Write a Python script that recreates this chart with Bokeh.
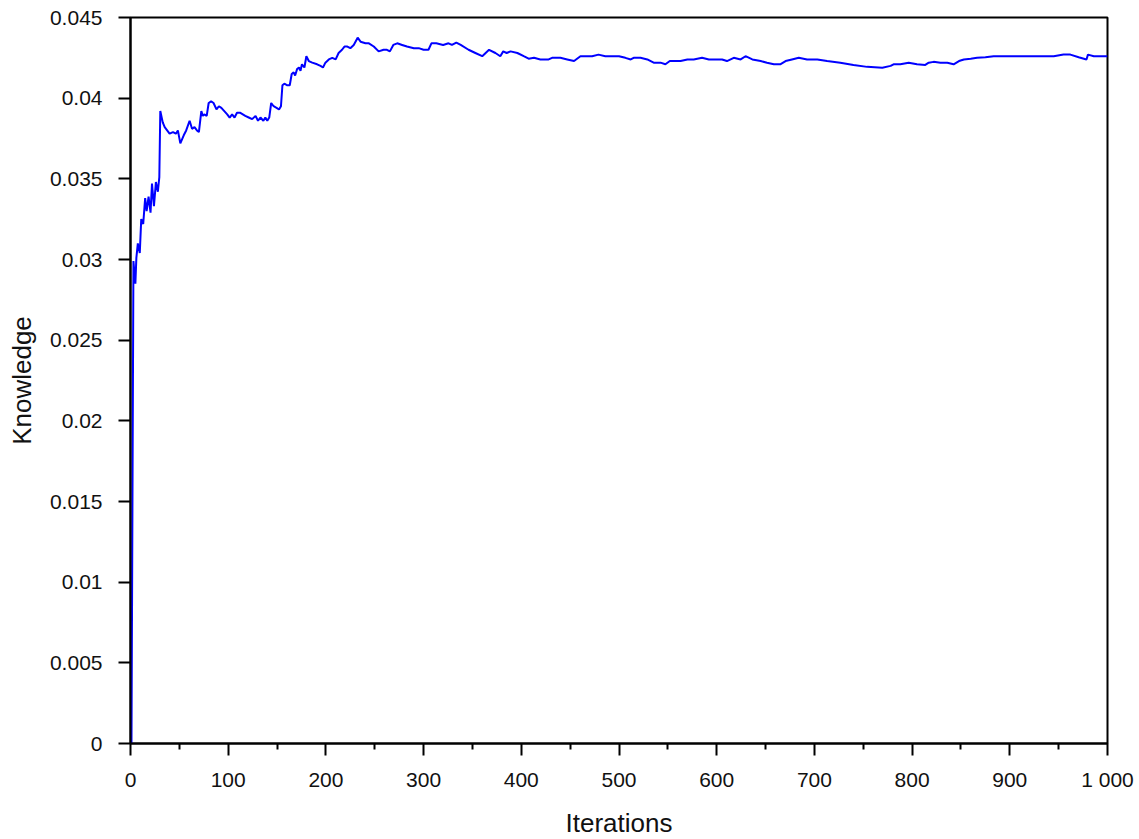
from bokeh.plotting import figure
from bokeh.models import Range1d, FixedTicker
from bokeh.embed import file_html
from bokeh.resources import INLINE

iterations = [1, 3, 5, 6, 7.5, 9.5, 11, 13, 15, 16.5, 18.5, 20.5, 22, 24, 26, 28, 29.5, 30.5,
              33, 35, 37.5, 40, 43.5, 46.5, 48.5, 51, 54.5, 57, 60.5, 63, 65.5, 68, 70, 72.5,
              74, 75.5, 78, 80, 82.5, 85, 88, 90.5, 93, 96, 99, 101.5, 104, 106.5, 109, 112,
              117.5, 121, 124.5, 128, 130.5, 133, 136, 138, 140, 142, 144, 146.5, 149.5, 152,
              154, 155.5, 157.5, 160.5, 163, 165, 167, 168.5, 170.5, 172.5, 174, 175.5, 178,
              180, 182.5, 186, 191, 194.5, 197, 199.5, 203, 206.5, 210, 213, 216.5, 219, 222,
              225, 228.5, 232.5, 235.5, 240.5, 244, 249, 254, 259, 262.5, 265.5, 269, 273, 278,
              283, 290, 295, 300, 305, 308, 313, 320, 325.5, 329, 333.5, 338, 346, 353, 360,
              367, 373.5, 378.5, 381.5, 385, 389, 396, 402.5, 407.5, 413, 419.5, 428, 431.5,
              440, 447, 454, 460.5, 467.5, 472.5, 479, 486, 493, 500, 506.5, 512, 515, 522,
              529, 535.5, 542.5, 547.5, 552, 558, 563, 570, 576.5, 585, 592, 599, 605.5, 610.5,
              617.5, 624.5, 629.5, 636.5, 645, 651.5, 658.5, 665, 670.5, 677, 684, 692.5, 703,
              713, 726.5, 740, 754, 769.5, 778, 781, 788, 796.5, 805, 813.5, 817, 822, 829,
              836, 842.5, 848, 853, 860, 866.5, 875, 883.5, 897, 911, 924.5, 938, 945, 955,
              962, 970.5, 978.5, 980, 986, 1000]

knowledge = [0.0, 0.0299, 0.0285, 0.0301, 0.0310, 0.0304, 0.0325, 0.0322, 0.0338, 0.0330,
             0.0339, 0.0329, 0.0347, 0.0333, 0.0348, 0.0342, 0.0351, 0.0392, 0.0385, 0.0382,
             0.0380, 0.0378, 0.0379, 0.0378, 0.0380, 0.0372, 0.0377, 0.0380, 0.0386, 0.0381,
             0.0382, 0.0380, 0.0379, 0.0392, 0.0389, 0.0390, 0.0389, 0.0397, 0.0398, 0.0397,
             0.0393, 0.0395, 0.0394, 0.0392, 0.0390, 0.0388, 0.0390, 0.0388, 0.0391, 0.0391,
             0.0389, 0.0388, 0.0387, 0.0389, 0.0386, 0.0388, 0.0386, 0.0388, 0.0386, 0.0388,
             0.0397, 0.0395, 0.0394, 0.0393, 0.0395, 0.0408, 0.0409, 0.0408, 0.0408, 0.0415,
             0.0416, 0.0414, 0.0418, 0.0419, 0.0417, 0.0421, 0.0419, 0.0426, 0.0423, 0.0422,
             0.0421, 0.0420, 0.0419, 0.0422, 0.0424, 0.0425, 0.0424, 0.0428, 0.0430, 0.0432,
             0.0432, 0.0431, 0.0433, 0.04375, 0.0435, 0.0434, 0.0434, 0.0432, 0.0429, 0.0430,
             0.0430, 0.0429, 0.0433, 0.0434, 0.0433, 0.0432, 0.0431, 0.0431, 0.0430, 0.0430,
             0.0434, 0.0434, 0.0433, 0.0434, 0.0433, 0.04345, 0.0433, 0.0430, 0.0428, 0.0426,
             0.0430, 0.0428, 0.0426, 0.0429, 0.0428, 0.0429, 0.0428, 0.0426, 0.04245, 0.0425,
             0.0424, 0.0424, 0.0425, 0.0425, 0.0424, 0.0423, 0.0426, 0.0426, 0.0426, 0.0427,
             0.0426, 0.0426, 0.0426, 0.0425, 0.0424, 0.0425, 0.0425, 0.0424, 0.0422, 0.0422,
             0.0421, 0.0423, 0.0423, 0.0423, 0.0424, 0.0424, 0.0425, 0.0424, 0.0424, 0.0424,
             0.0423, 0.0425, 0.0424, 0.0426, 0.0424, 0.0423, 0.0422, 0.0421, 0.0421, 0.0423,
             0.0424, 0.0425, 0.0424, 0.0424, 0.0423, 0.0422, 0.04206, 0.04194, 0.04188, 0.0420,
             0.0421, 0.0421, 0.0422, 0.0421, 0.04206, 0.0422, 0.04225, 0.0422, 0.0422, 0.0421,
             0.0423, 0.0424, 0.04244, 0.0425, 0.04254, 0.0426, 0.0426, 0.0426, 0.0426, 0.0426,
             0.0426, 0.0427, 0.0427, 0.04254, 0.0424, 0.0427, 0.0426, 0.0426]

x_ticks = [0, 100, 200, 300, 400, 500, 600, 700, 800, 900, 1000]
x_tick_labels = ["0", "100", "200", "300", "400", "500", "600", "700", "800", "900", "1 000"]
x_minor_ticks = [50, 150, 250, 350, 450, 550, 650, 750, 850, 950]
y_ticks = [0, 0.005, 0.01, 0.015, 0.02, 0.025, 0.03, 0.035, 0.04, 0.045]
y_tick_labels = ["0", "0.005", "0.01", "0.015", "0.02", "0.025", "0.03", "0.035", "0.04", "0.045"]

FONT = "Liberation Sans"

p = figure(frame_width=977, frame_height=726, output_backend="svg", toolbar_location=None,
           x_range=Range1d(0, 1000), y_range=Range1d(0, 0.045),
           min_border_left=130, min_border_right=28, min_border_top=17, min_border_bottom=92)
p.background_fill_color = "white"
p.border_fill_color = "white"
p.grid.visible = False
p.outline_line_color = "black"
p.outline_line_width = 2
p.outline_line_alpha = 1.0

p.line(iterations, knowledge, line_color="#0000ff", line_width=2)

p.xaxis.ticker = FixedTicker(ticks=x_ticks, minor_ticks=x_minor_ticks)
p.xaxis.major_label_overrides = {float(t): l for t, l in zip(x_ticks, x_tick_labels)}
p.yaxis.ticker = FixedTicker(ticks=y_ticks)
p.yaxis.major_label_overrides = {float(t): l for t, l in zip(y_ticks, y_tick_labels)}

for ax in (p.xaxis, p.yaxis):
    ax.axis_line_color = "black"
    ax.axis_line_width = 2
    ax.major_tick_line_color = "black"
    ax.major_tick_line_width = 2
    ax.major_tick_out = 12
    ax.major_tick_in = 0
    ax.major_label_text_font = FONT
    ax.major_label_text_font_size = "21px"
    ax.major_label_text_color = "#111111"
    ax.axis_label_text_font = FONT
    ax.axis_label_text_font_size = "26px"
    ax.axis_label_text_font_style = "normal"
    ax.axis_label_text_color = "#111111"

p.xaxis.minor_tick_line_color = "black"
p.xaxis.minor_tick_line_width = 2
p.xaxis.minor_tick_out = 6
p.xaxis.minor_tick_in = 0
p.yaxis.minor_tick_line_color = None

p.xaxis.major_label_standoff = 12
p.yaxis.major_label_standoff = 16
p.xaxis.axis_label = "Iterations"
p.yaxis.axis_label = "Knowledge"
p.xaxis.axis_label_standoff = 14
p.yaxis.axis_label_standoff = 10

open("out.html", "w").write(file_html(p, INLINE))
